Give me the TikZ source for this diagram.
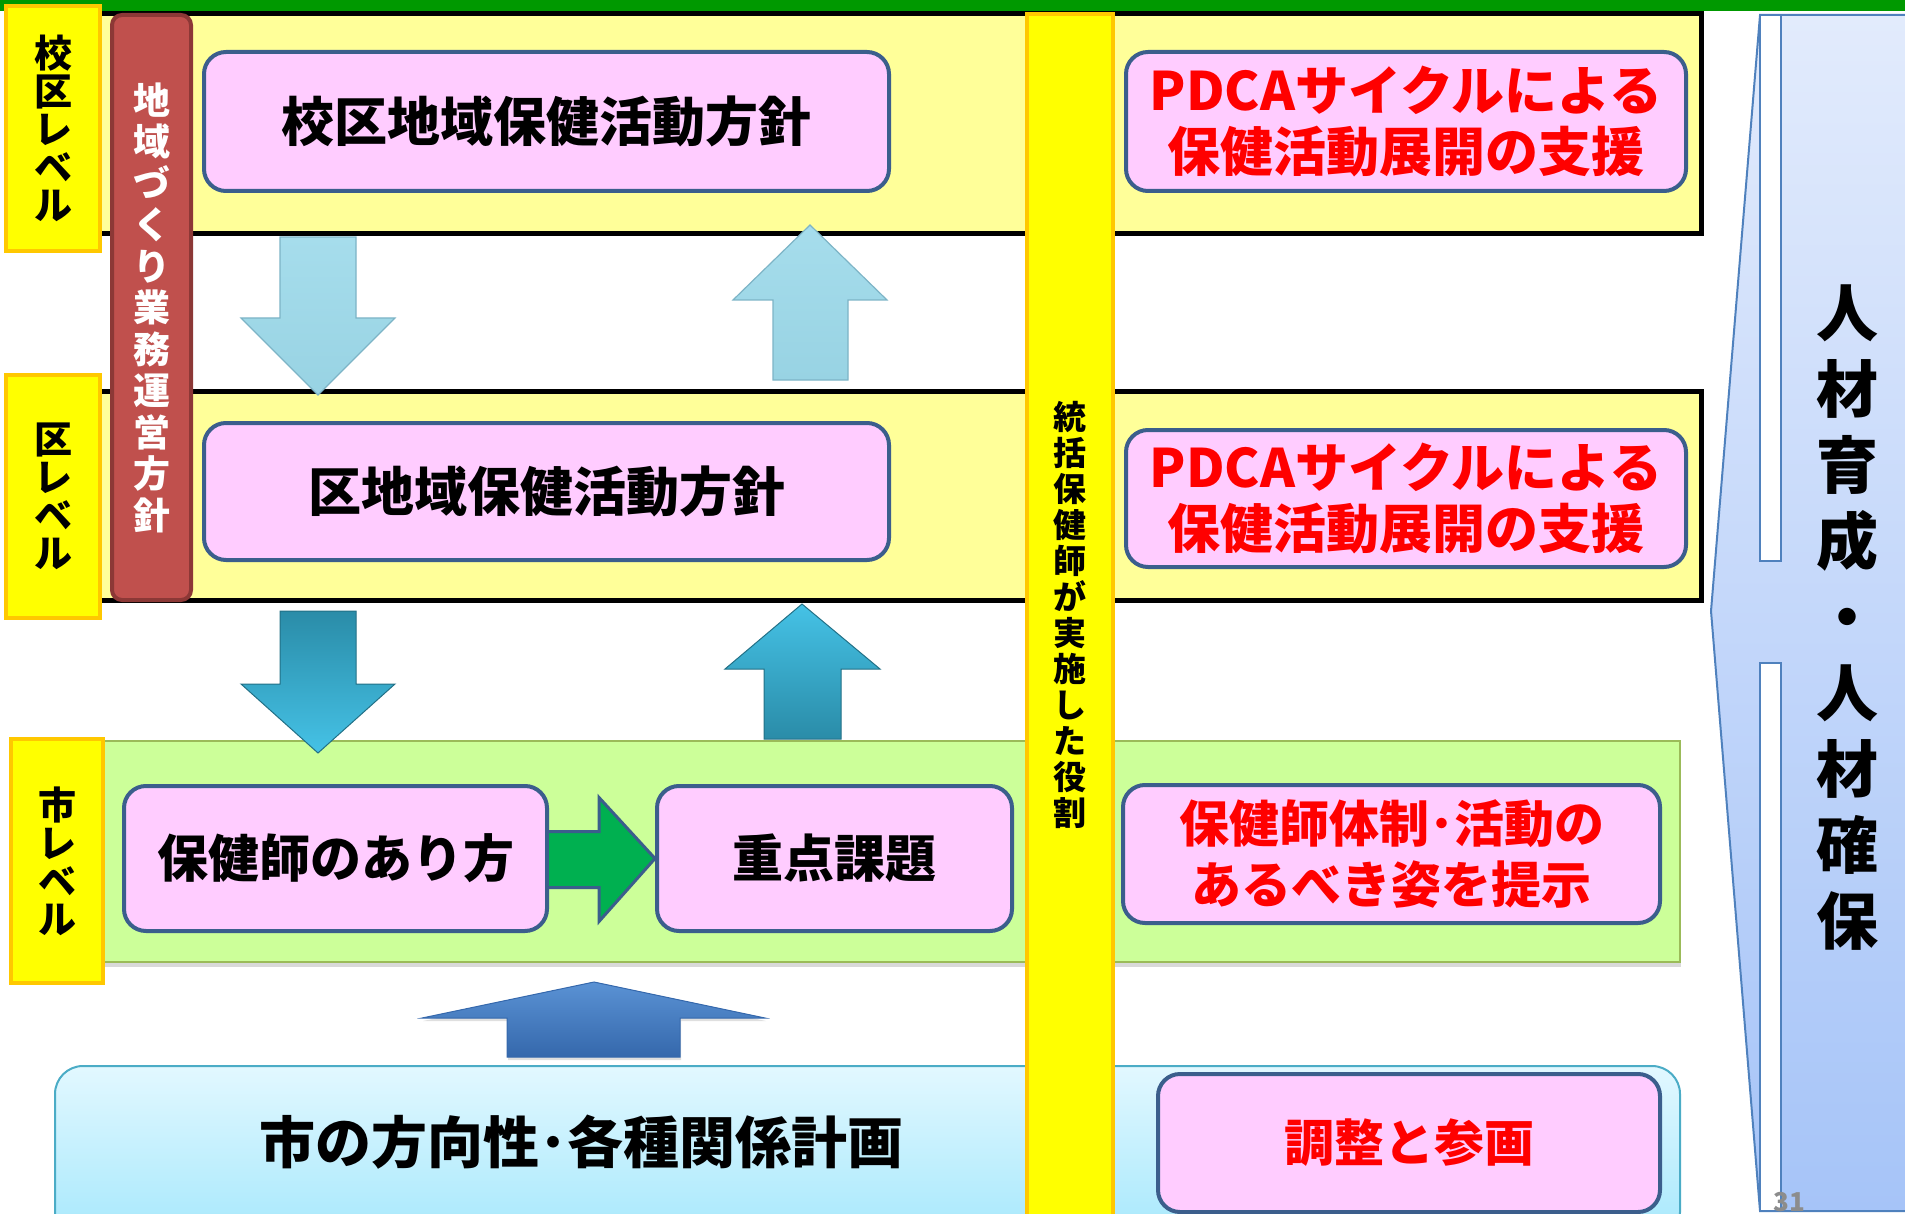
\documentclass[tikz,border=0pt]{standalone}
\usepackage{fontspec}
\setmainfont{Noto Sans CJK JP}
\usetikzlibrary{shadows,calc}
\definecolor{bandyel}{HTML}{FFFF99}
\definecolor{lblfill}{HTML}{FFFF00}
\definecolor{lblbord}{HTML}{FFC800}
\definecolor{redbox}{HTML}{C0504D}
\definecolor{redbord}{HTML}{8C3836}
\definecolor{pinkfill}{HTML}{FFCCFF}
\definecolor{navy}{HTML}{3B5E8C}
\definecolor{greenband}{HTML}{CCFF99}
\definecolor{greenbord}{HTML}{9BBB59}
\definecolor{arrowgreen}{HTML}{00B050}
\definecolor{lightarrowA}{HTML}{A6DDEC}
\definecolor{lightarrowB}{HTML}{98D3E3}
\definecolor{lightarrowC}{HTML}{7DB4C6}
\definecolor{tealdark}{HTML}{2A8CA8}
\definecolor{teallight}{HTML}{45C2E6}
\definecolor{blueA}{HTML}{5A92D4}
\definecolor{blueB}{HTML}{3568AC}
\definecolor{cyanTop}{HTML}{E2F8FF}
\definecolor{cyanBot}{HTML}{A6E8FC}
\definecolor{cyanBord}{HTML}{4BACC6}
\definecolor{rightTop}{HTML}{E2EBFC}
\definecolor{rightBot}{HTML}{A6C4F8}
\definecolor{rightBord}{HTML}{4F81BD}
\definecolor{topgreen}{HTML}{009900}
\definecolor{pagegray}{HTML}{8C8C8C}
\definecolor{txtred}{HTML}{FF0000}
\begin{document}
\begin{tikzpicture}[x=1pt,y=-1pt,
  band/.style={fill=bandyel, draw=black, line width=5pt},
  lbl/.style={fill=lblfill, draw=lblbord, line width=4pt, align=center, inner sep=0pt,
    font=\bfseries\fontsize{38}{38}\selectfont},
  pinkbox/.style={fill=pinkfill, draw=navy, line width=4pt, rounded corners=22pt,
    align=center, inner sep=0pt},
  bigtxt/.style={font=\bfseries\fontsize{53}{61}\selectfont},
  midtxt/.style={font=\bfseries\fontsize{50}{61}\selectfont},
  redtxt/.style={text=txtred},
  lightarrow/.style={top color=lightarrowA, bottom color=lightarrowB, draw=lightarrowC, line width=1.2pt},
  downteal/.style={top color=tealdark, bottom color=teallight, draw=tealdark!80!black, line width=1pt},
  upteal/.style={top color=teallight, bottom color=tealdark, draw=tealdark!80!black, line width=1pt},
]
\useasboundingbox (0,0) rectangle (1905,1214);
\clip (0,0) rectangle (1905,1214);

% top green bar
\fill[topgreen] (0,0) rectangle (1905,11);

% bands
\draw[band] (50,14) rectangle (1701,234);
\draw[band] (50,391) rectangle (1701,600);
\draw[fill=greenband, draw=greenbord, line width=2pt,
  drop shadow={shadow xshift=1pt, shadow yshift=-5pt, opacity=0.3, fill=gray}]
  (103,741) rectangle (1680,962);

% bottom box
\draw[top color=cyanTop, bottom color=cyanBot, draw=cyanBord, line width=2pt, rounded corners=28pt]
  (55,1066) rectangle (1680,1240);

% right shape
\draw[top color=rightTop, bottom color=rightBot, draw=rightBord, line width=2pt]
  (1760,15) -- (1925,15) -- (1925,1211) -- (1760,1211) -- (1711,611) -- cycle;
\draw[fill=white, draw=rightBord, line width=2pt] (1760,15) rectangle (1781,561);
\draw[fill=white, draw=rightBord, line width=2pt] (1760,663) rectangle (1781,1211);
\node[align=center, font=\bfseries\fontsize{62}{76}\selectfont] (jinzai) at (1847,618)
  {人\\材\\育\\成\\・\\人\\材\\確\\保};
\node[anchor=south, text=pagegray, font=\bfseries\fontsize{26}{26}\selectfont, inner sep=0pt] (pg) at (1789,1212) {31};

% red vertical box
\node[fill=redbox, draw=redbord, line width=4pt, rounded corners=10pt, inner sep=0pt,
  minimum width=79pt, minimum height=585pt, align=center, text=white,
  font=\bfseries\fontsize{37}{41.5}\selectfont] (red) at (151.5,307.5)
  {地\\域\\づ\\く\\り\\業\\務\\運\\営\\方\\針};

% level labels
\node[lbl, minimum width=94pt, minimum height=245pt] (L1) at (53,128.5) {校\\区\\レ\\ベ\\ル};
\node[lbl, minimum width=94pt, minimum height=243pt] (L2) at (53,496.5) {区\\レ\\ベ\\ル};
\node[lbl, minimum width=92pt, minimum height=244pt] (L3) at (57,861) {市\\レ\\ベ\\ル};

% yellow vertical bar
\node[fill=lblfill, draw=lblbord, line width=4pt, inner sep=0pt, minimum width=86pt,
  minimum height=1202pt, align=center, font=\bfseries\fontsize{33}{36}\selectfont] (role) at (1070,615)
  {統\\括\\保\\健\\師\\が\\実\\施\\し\\た\\役\\割};

% pink boxes
\node[pinkbox, bigtxt, minimum width=685pt, minimum height=139pt] (kk) at (546.5,121.5) {校区地域保健活動方針};
\node[pinkbox, bigtxt, minimum width=685pt, minimum height=137pt] (ku) at (546.5,491.5) {区地域保健活動方針};
\node[pinkbox, bigtxt, redtxt, minimum width=560pt, minimum height=139pt] (p1) at (1406,121.5) {PDCAサイクルによる\\保健活動展開の支援};
\node[pinkbox, bigtxt, redtxt, minimum width=560pt, minimum height=137pt] (p2) at (1406,498.5) {PDCAサイクルによる\\保健活動展開の支援};
\node[pinkbox, font=\bfseries\fontsize{51}{61}\selectfont, minimum width=423pt, minimum height=145pt] (hk) at (335.5,858.5) {保健師のあり方};
\node[pinkbox, font=\bfseries\fontsize{51}{61}\selectfont, minimum width=355pt, minimum height=145pt] (jt) at (834.5,858.5) {重点課題};
\node[pinkbox, midtxt, redtxt, minimum width=537pt, minimum height=138pt] (ht) at (1391.5,854) {保健師体制･活動の\\あるべき姿を提示};
\node[pinkbox, midtxt, redtxt, minimum width=502pt, minimum height=138pt] (cs) at (1409,1143) {調整と参画};
\node[font=\bfseries\fontsize{56}{61}\selectfont] (city) at (581,1142) {市の方向性･各種関係計画};

% arrows between levels
\draw[lightarrow] (280,237) -- (356,237) -- (356,318) -- (395,318) -- (318,395) -- (241,318) -- (280,318) -- cycle;
\draw[lightarrow] (773,380) -- (848,380) -- (848,300) -- (887,300) -- (810,225) -- (733,300) -- (773,300) -- cycle;
\draw[downteal] (280,611) -- (356,611) -- (356,684) -- (395,684) -- (318,753) -- (241,684) -- (280,684) -- cycle;
\draw[upteal] (764,739) -- (841,739) -- (841,669) -- (880,669) -- (802,604) -- (725,669) -- (764,669) -- cycle;

% green arrow from hk to jt
\draw[fill=arrowgreen, draw=navy, line width=3pt, line join=miter]
  ($(hk.east)+(0,-27)$) -- ($(jt.west)+(-56,-27)$) -- ($(jt.west)+(-56,-61)$) -- (jt.west)
  -- ($(jt.west)+(-56,63)$) -- ($(jt.west)+(-56,29)$) -- ($(hk.east)+(0,29)$);

% blue flat up arrow
\draw[top color=blueA, bottom color=blueB, draw=blueB, line width=1pt,
  drop shadow={shadow xshift=1pt, shadow yshift=-3pt, opacity=0.25, fill=gray}]
  (507,1057) -- (680,1057) -- (680,1018) -- (765,1018) -- (594,982) -- (422,1018) -- (507,1018) -- cycle;
\end{tikzpicture}
\end{document}
